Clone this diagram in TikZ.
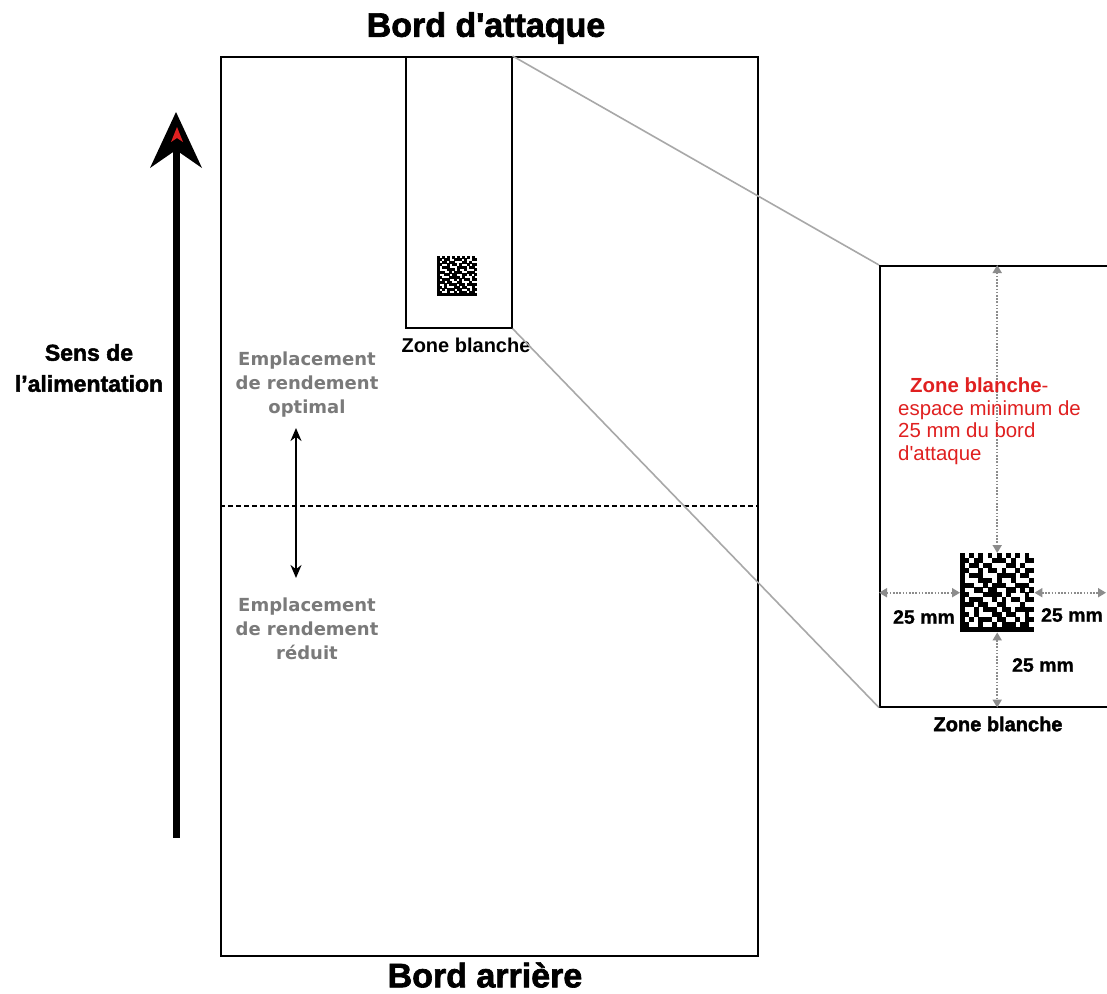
\documentclass[tikz,border=0pt]{standalone}
\usepackage{fontspec}
\setmainfont{Liberation Sans}
\newfontfamily\verd{DejaVu Sans}
\newfontfamily\heavy{Liberation Sans Bold}[RawFeature={embolden=2}]
\newfontfamily\semiheavy{Liberation Sans Bold}[RawFeature={embolden=1}]
\usetikzlibrary{arrows.meta}
\definecolor{redtxt}{HTML}{E02020}
\definecolor{graytxt}{HTML}{7A7A7A}
\definecolor{dotgray}{HTML}{8C8C8C}
\definecolor{linegray}{HTML}{A8A8A8}
\tikzset{
  dm/.pic={
    \foreach \row [count=\r] in {
      {1,0,1,0,1,0,1,0,1,0,1,0,1,0,1,0},
      {1,1,0,1,1,0,0,1,1,1,0,1,0,0,1,1},
      {1,0,1,1,0,1,1,0,0,0,1,1,0,1,0,0},
      {1,1,0,0,1,0,1,1,0,1,0,0,1,0,1,1},
      {1,0,1,1,1,0,0,0,1,1,1,1,0,1,1,0},
      {1,0,0,0,1,1,1,0,1,0,0,1,0,0,0,1},
      {1,1,1,0,0,1,0,1,1,1,0,0,1,1,1,0},
      {1,0,0,1,1,0,1,1,0,0,1,1,0,1,0,1},
      {1,1,0,0,0,1,1,1,1,0,1,0,0,0,1,0},
      {1,0,1,1,1,0,0,1,0,1,0,1,1,0,1,1},
      {1,1,1,0,1,1,0,0,1,1,0,0,0,1,0,0},
      {1,0,0,1,0,1,1,1,0,1,1,0,1,1,1,1},
      {1,1,0,1,0,0,0,1,1,0,1,1,0,0,1,0},
      {1,0,1,0,1,1,1,0,1,1,0,0,1,0,1,1},
      {1,1,0,0,1,0,0,1,0,1,1,1,0,1,1,0},
      {1,1,1,1,1,1,1,1,1,1,1,1,1,1,1,1}}{
      \foreach \c [count=\k] in \row {
        \ifnum\c=1 \fill[black] (\k-1.02,\r-1.02) rectangle (\k,\r); \fi
      }
    }
  },
  boxline/.style={draw, line width=1.6pt, inner sep=0pt, anchor=north west},
  title/.style={font=\heavy\fontsize{34}{38}\selectfont},
  graylbl/.style={font=\verd\fontsize{18}{24}\selectfont\bfseries, text=graytxt, align=center},
  mmlbl/.style={font=\semiheavy\fontsize{19.5}{22}\selectfont},
  redlbl/.style={font=\fontsize{20.4}{23}\selectfont, text=redtxt, anchor=base west, inner sep=0pt},
  dotarrow/.style={draw=dotgray, line width=1.8pt, dash pattern=on 1.6pt off 1.6pt,
    {Triangle[width=9pt,length=8pt]}-{Triangle[width=9pt,length=8pt]}},
  zoomline/.style={draw=linegray, line width=1.6pt},
}
\begin{document}
\begin{tikzpicture}[x=1pt,y=-1pt]
\clip (0,0) rectangle (1107,993);
\fill[white] (0,0) rectangle (1107,993);

% titles
\node[title] (lead) at (486,28) {Bord d\textquotesingle attaque};
\node[title] (trail) at (485,975) {Bord arrière};

% page
\node[boxline, minimum width=537pt, minimum height=899pt] (page) at (220,56) {};
% zone rectangle
\node[boxline, minimum width=106pt, minimum height=271pt] (zone) at (405,56) {};
\node[inner sep=0pt, minimum width=40pt, minimum height=41pt, anchor=north west] (sbc) at (437,256) {};
\pic[scale=2.5] at (437,256) {dm};
\node[font=\fontsize{20}{22}\selectfont\bfseries] (zonetxt) at (466,345) {Zone blanche};

% dashed separator
\coordinate (dl) at (page.west |- 0,506);
\coordinate (dr) at (page.east |- 0,506);
\draw[dashed, dash pattern=on 5pt off 3pt, line width=1.2pt] (dl) -- (dr);

% double arrow
\coordinate (dat) at (296,428);
\coordinate (dab) at (296,578);
\draw[line width=2.2pt, {Stealth[length=13pt,width=11pt]}-{Stealth[length=13pt,width=11pt]}] (dat) -- (dab);

\node[graylbl] (opt) at (307,385) {Emplacement\\de rendement\\optimal};
\node[graylbl] (red) at (307,629) {Emplacement\\de rendement\\réduit};

% feed direction arrow
\fill[black] (172.5,838) rectangle (179.5,150);
\fill[black] (176,112) -- (202,168) -- (176,150) -- (150,168) -- cycle;
\fill[redtxt] (177,127) -- (183,142) -- (177,138) -- (171,142) -- cycle;
\node[font=\heavy\fontsize{23}{31}\selectfont, align=center] (feed) at (89,368) {Sens de\\l’alimentation};

% zoom box
\node[boxline, minimum width=270pt, minimum height=441pt] (zoom) at (879,265) {};
\draw[zoomline] (zone.north east) -- (zoom.north west);
\draw[zoomline] (zone.south east) -- (zoom.south west);

\node[inner sep=0pt, minimum width=74pt, minimum height=79pt, anchor=north west] (bc) at (960,553) {};
\pic[xscale=4.625, yscale=4.94] at (960,553) {dm};

\coordinate (redge) at (1106,0);
\draw[dotarrow] (zoom.north -| bc.north) -- (bc.north);
\draw[dotarrow] (bc.south) -- (zoom.south -| bc.south);
\draw[dotarrow] (zoom.west |- bc.west) -- (bc.west);
\draw[dotarrow] (bc.east) -- (bc.east -| redge);

\node[mmlbl] (mml) at (924,617) {25 mm};
\node[mmlbl] (mmr) at (1072,615) {25 mm};
\node[mmlbl] (mmb) at (1043,665) {25 mm};
\node[font=\heavy\fontsize{20}{22}\selectfont] (zonebot) at (998,724) {Zone blanche};

\node[redlbl] (r1) at (910,392) {\textbf{Zone blanche}-};
\node[redlbl] (r2) at (898,415) {espace minimum de};
\node[redlbl] (r3) at (898,437) {25 mm du bord};
\node[redlbl] (r4) at (898,460) {d\textquotesingle attaque};
\end{tikzpicture}
\end{document}
